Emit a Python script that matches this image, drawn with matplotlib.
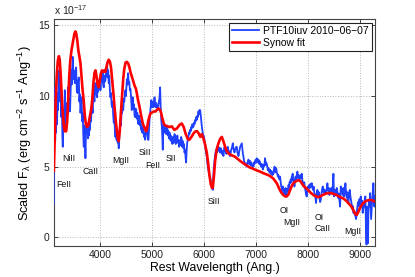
import matplotlib
matplotlib.use("Agg")
import matplotlib.pyplot as plt

plt.rcParams['font.family'] = ['Liberation Sans', 'DejaVu Sans']
plt.rcParams['mathtext.fontset'] = 'custom'
plt.rcParams['mathtext.rm'] = 'Liberation Sans'
plt.rcParams['mathtext.it'] = 'Liberation Sans:italic'
plt.rcParams['mathtext.bf'] = 'Liberation Sans:bold'

# Observed spectrum (units of 1e-17)
obs_wl = [3105, 3110, 3118, 3126, 3134, 3142, 3150, 3160, 3170, 3180, 3190, 3200, 3210, 3220, 3230, 3242, 3252, 3262, 3272, 3280,
          3290, 3300, 3310, 3319, 3330, 3338, 3345, 3355, 3365, 3375, 3383, 3395, 3409, 3420, 3432, 3440, 3452, 3462, 3473, 3485,
          3497, 3512, 3525, 3537, 3550, 3563, 3576, 3589, 3600, 3610, 3621, 3632, 3643, 3655, 3665, 3675, 3685, 3695, 3704, 3712,
          3717, 3725, 3735, 3745, 3755, 3765, 3775, 3785, 3795, 3805, 3815, 3825, 3835, 3845, 3855, 3865, 3878, 3890, 3900, 3910,
          3920, 3930, 3942, 3952, 3962, 3974, 3985, 3995, 4006, 4016, 4027, 4038, 4048, 4058, 4070, 4080, 4090, 4102, 4112, 4122,
          4134, 4144, 4155, 4166, 4176, 4188, 4199, 4210, 4220, 4231, 4241, 4252, 4263, 4273, 4284, 4295, 4305, 4316, 4327, 4338,
          4348, 4359, 4370, 4380, 4390, 4400, 4412, 4423, 4435, 4445, 4456, 4466, 4478, 4488, 4498, 4510, 4520, 4530, 4539, 4550,
          4562, 4573, 4584, 4595, 4610, 4620, 4630, 4642, 4652, 4664, 4674, 4684, 4696, 4706, 4716, 4727, 4738, 4748, 4759, 4770,
          4780, 4791, 4803, 4813, 4824, 4835, 4846, 4856, 4867, 4877, 4888, 4900, 4910, 4920, 4931, 4942, 4952, 4963, 4974, 4985,
          4995, 5006, 5016, 5027, 5038, 5048, 5060, 5070, 5081, 5092, 5102, 5113, 5124, 5135, 5145, 5156, 5166, 5178, 5190, 5200,
          5207, 5216, 5225, 5237, 5248, 5260, 5271, 5283, 5294, 5305, 5316, 5327, 5338, 5348, 5360, 5370, 5381, 5392, 5402, 5413,
          5424, 5434, 5445, 5456, 5466, 5477, 5488, 5498, 5509, 5520, 5530, 5541, 5552, 5562, 5573, 5584, 5594, 5605, 5616, 5626,
          5637, 5648, 5657, 5668, 5678, 5690, 5700, 5712, 5723, 5734, 5745, 5755, 5766, 5777, 5787, 5798, 5809, 5820, 5830, 5841,
          5851, 5862, 5873, 5884, 5894, 5905, 5915, 5926, 5937, 5947, 5958, 5969, 5980, 5990, 6003, 6015, 6028, 6040, 6055, 6068,
          6080, 6094, 6106, 6120, 6135, 6150, 6160, 6171, 6180, 6190, 6200, 6212, 6224, 6236, 6248, 6258, 6270, 6280, 6290, 6302,
          6313, 6325, 6335, 6345, 6356, 6366, 6377, 6388, 6398, 6409, 6420, 6430, 6441, 6452, 6462, 6473, 6484, 6494, 6505, 6516,
          6526, 6537, 6548, 6557, 6568, 6580, 6590, 6600, 6612, 6624, 6634, 6645, 6656, 6666, 6677, 6688, 6698, 6710, 6720, 6730,
          6742, 6752, 6762, 6774, 6785, 6795, 6806, 6816, 6826, 6837, 6848, 6858, 6869, 6880, 6891, 6902, 6912, 6923, 6934, 6944,
          6955, 6966, 6976, 6987, 6998, 7008, 7019, 7030, 7040, 7051, 7062, 7072, 7083, 7094, 7104, 7115, 7126, 7136, 7147, 7158,
          7168, 7179, 7190, 7200, 7211, 7222, 7232, 7243, 7254, 7265, 7275, 7286, 7297, 7307, 7318, 7329, 7340, 7350, 7361, 7372,
          7382, 7393, 7404, 7414, 7425, 7436, 7446, 7457, 7468, 7479, 7490, 7500, 7511, 7522, 7532, 7543, 7554, 7565, 7575, 7586,
          7597, 7607, 7618, 7630, 7640, 7650, 7661, 7672, 7683, 7694, 7712, 7722, 7733, 7744, 7755, 7766, 7777, 7790, 7802, 7814,
          7826, 7838, 7850, 7862, 7874, 7886, 7898, 7910, 7921, 7933, 7945, 7958, 7970, 7982, 7994, 8005, 8017, 8030, 8042, 8055,
          8066, 8078, 8090, 8102, 8114, 8126, 8138, 8150, 8162, 8174, 8187, 8200, 8213, 8226, 8239, 8252, 8265, 8277, 8290, 8303,
          8316, 8329, 8341, 8354, 8367, 8380, 8392, 8405, 8418, 8431, 8444, 8457, 8470, 8483, 8496, 8503, 8509, 8520, 8534, 8547,
          8560, 8573, 8586, 8598, 8611, 8624, 8637, 8650, 8663, 8675, 8688, 8701, 8714, 8727, 8740, 8752, 8765, 8778, 8784, 8797,
          8810, 8823, 8836, 8849, 8862, 8875, 8881, 8895, 8907, 8920, 8932, 8945, 8958, 8970, 8983, 8996, 9009, 9022, 9035, 9048,
          9060, 9073, 9086, 9099, 9112, 9120, 9128, 9133, 9138, 9145, 9155, 9162, 9170, 9180, 9190, 9202, 9212, 9222, 9232, 9245,
          9255, 9266, 9276, 9285, 9295, 9310]
obs_flux = [2.4, 10.6, 7.5, 9.8, 6.8, 9.5, 7.4, 9.2, 8.0, 10.2, 9.0, 11.8, 10.5, 11.5, 9.6, 10.9, 8.5, 9.8, 7.2, 6.4,
            8.4, 9.0, 8.0, 10.4, 8.6, 9.2, 7.6, 8.8, 9.5, 8.7, 10.6, 9.0, 9.8, 8.9, 10.4, 11.8, 10.8, 11.9, 12.75, 11.2,
            11.8, 10.9, 11.6, 12.0, 10.4, 10.2, 11.0, 11.3, 9.6, 10.1, 8.8, 9.3, 9.9, 8.2, 8.8, 7.3, 6.4, 7.9, 7.6, 6.3,
            5.6, 7.2, 8.1, 7.4, 8.0, 7.0, 7.8, 7.2, 8.3, 7.6, 8.6, 8.2, 9.1, 9.4, 8.8, 9.9, 10.2, 9.6, 10.5, 10.9,
            10.1, 10.6, 9.9, 10.8, 10.3, 11.1, 10.6, 11.3, 10.4, 11.0, 11.5, 11.0, 11.6, 10.8, 10.6, 11.4, 11.0, 11.1, 11.9, 11.5,
            12.3, 11.3, 11.8, 10.9, 11.4, 10.4, 9.9, 10.2, 9.4, 9.2, 9.6, 8.6, 8.1, 8.6, 7.6, 7.1, 7.6, 6.9, 7.1, 6.7,
            6.9, 6.3, 7.2, 7.8, 8.3, 7.9, 8.7, 8.8, 9.3, 9.0, 9.8, 9.6, 10.2, 10.4, 10.0, 10.9, 11.2, 10.8, 11.6, 10.9,
            11.0, 10.4, 10.5, 10.0, 9.0, 9.8, 9.9, 9.1, 9.4, 8.6, 8.5, 9.1, 9.0, 8.4, 8.8, 8.2, 8.0, 8.6, 8.5, 7.9,
            8.2, 7.6, 7.8, 7.4, 7.9, 7.5, 7.1, 7.4, 6.9, 7.3, 7.8, 7.3, 7.5, 6.9, 6.9, 7.6, 8.3, 8.76, 9.2, 9.7,
            9.4, 9.2, 9.6, 9.2, 9.5, 9.9, 9.4, 9.2, 9.5, 9.2, 9.3, 9.0, 9.4, 9.6, 9.9, 10.6, 9.3, 8.3, 7.8, 7.0,
            6.2, 7.5, 8.0, 7.8, 7.4, 7.9, 7.3, 7.6, 7.8, 7.2, 7.5, 7.0, 7.4, 6.9, 7.2, 6.8, 7.0, 6.6, 7.1, 6.7,
            7.0, 7.3, 7.1, 6.6, 7.0, 6.8, 7.2, 6.7, 6.9, 6.4, 6.8, 6.5, 6.9, 7.1, 6.9, 6.4, 6.8, 6.3, 6.6, 6.0,
            6.2, 5.6, 5.3, 6.2, 6.7, 6.9, 7.1, 7.4, 7.3, 7.6, 7.5, 7.8, 7.7, 8.0, 7.9, 7.8, 8.1, 8.0, 8.3, 8.2,
            8.5, 8.3, 8.6, 8.5, 8.9, 8.7, 9.0, 9.0, 8.7, 8.3, 7.9, 7.6, 7.3, 7.2, 7.1, 6.7, 6.4, 6.0, 5.7, 5.2,
            4.9, 4.6, 4.4, 4.3, 3.9, 3.7, 3.5, 3.36, 4.2, 4.9, 5.3, 5.7, 6.0, 6.2, 6.0, 6.4, 6.2, 6.4, 6.1, 6.3,
            6.0, 6.3, 6.2, 5.9, 6.1, 5.9, 5.75, 6.2, 6.4, 6.1, 6.3, 5.9, 6.0, 6.3, 6.4, 6.0, 6.1, 5.8, 5.75, 6.0,
            6.2, 6.3, 6.5, 6.65, 6.3, 6.1, 6.0, 6.2, 6.3, 6.4, 6.4, 6.0, 5.9, 5.75, 6.0, 6.2, 6.4, 6.5, 6.6, 6.65,
            6.2, 5.9, 5.7, 5.4, 5.3, 5.1, 5.2, 5.1, 5.0, 5.3, 5.2, 5.5, 5.3, 5.2, 5.4, 5.1, 5.3, 5.2, 5.0, 5.1,
            5.0, 5.3, 5.2, 5.4, 5.5, 5.3, 5.6, 5.4, 5.3, 5.5, 5.2, 5.4, 5.2, 5.1, 5.0, 5.2, 5.0, 4.8, 5.1, 5.0,
            5.2, 5.6, 5.1, 5.3, 5.2, 5.0, 4.75, 4.9, 4.7, 4.6, 4.8, 4.5, 4.7, 4.6, 4.4, 4.6, 4.5, 4.8, 5.0, 4.7,
            4.6, 4.9, 4.6, 4.5, 4.3, 4.4, 4.2, 4.1, 4.3, 3.9, 3.6, 3.5, 3.3, 3.6, 3.36, 3.0, 3.4, 3.1, 3.5, 2.9,
            3.1, 3.4, 3.3, 3.7, 3.5, 3.9, 3.83, 4.1, 3.9, 4.3, 4.5, 4.0, 4.1, 3.6, 4.0, 4.3, 4.1, 4.4, 4.65, 4.2,
            4.4, 4.0, 4.3, 4.4, 4.2, 4.5, 4.0, 3.8, 3.6, 3.9, 3.5, 3.3, 3.0, 2.89, 3.3, 3.6, 3.4, 3.7, 3.5, 3.8,
            3.6, 3.83, 3.5, 3.36, 3.6, 3.2, 3.0, 2.8, 2.43, 3.1, 3.36, 3.0, 3.2, 2.8, 2.5, 2.66, 3.1, 3.4, 3.6, 3.2,
            3.4, 3.1, 3.3, 3.13, 3.5, 3.83, 3.3, 3.5, 3.0, 3.36, 3.2, 3.5, 3.1, 3.6, 4.5, 3.4, 2.9, 3.2, 3.36, 3.0,
            3.5, 3.2, 2.8, 3.1, 2.6, 2.18, 3.6, 3.2, 3.4, 3.0, 3.5, 2.9, 3.3, 3.83, 3.1, 2.8, 3.2, 2.6, 2.43, 3.0,
            3.36, 2.9, 2.6, 2.3, 2.0, 2.2, 1.74, 1.9, 1.6, 1.5, 1.3, 1.7, 2.18, 2.5, 2.2, 2.7, 2.4, 2.9, 2.3, 2.6,
            1.74, 2.4, 2.1, 2.7, 2.9, 1.2, 0.3, -0.5, 0.8, 2.18, 1.0, -0.4, 1.8, 2.6, 2.2, 3.13, 2.2, 1.3, 2.0, 2.8,
            3.3, 3.83, 2.6, 2.18, 2.9, 2.6]

# Synow fit
fit_wl = [3108, 3125, 3145, 3165, 3185, 3205, 3220, 3240, 3260, 3280, 3300, 3320, 3345, 3365, 3385, 3405, 3425, 3447, 3465, 3485,
          3505, 3524, 3540, 3560, 3580, 3600, 3621, 3640, 3660, 3685, 3705, 3725, 3749, 3770, 3790, 3810, 3830, 3850, 3870, 3890,
          3910, 3930, 3950, 3974, 3995, 4015, 4038, 4060, 4080, 4100, 4120, 4145, 4166, 4190, 4210, 4235, 4260, 4280, 4300, 4320,
          4340, 4359, 4380, 4400, 4423, 4445, 4465, 4490, 4515, 4540, 4565, 4590, 4617, 4640, 4665, 4690, 4706, 4730, 4755, 4780,
          4803, 4825, 4850, 4870, 4886, 4905, 4925, 4945, 4963, 4985, 5010, 5040, 5070, 5100, 5124, 5150, 5175, 5200, 5230, 5260,
          5300, 5340, 5380, 5430, 5480, 5530, 5573, 5610, 5650, 5690, 5720, 5760, 5800, 5840, 5870, 5900, 5930, 5958, 5990, 6020,
          6055, 6080, 6106, 6130, 6155, 6171, 6190, 6216, 6245, 6280, 6310, 6345, 6375, 6409, 6440, 6473, 6510, 6550, 6601, 6650,
          6700, 6762, 6820, 6880, 6923, 6980, 7030, 7083, 7140, 7190, 7243, 7290, 7340, 7380, 7404, 7440, 7470, 7500, 7530, 7565,
          7597, 7630, 7661, 7700, 7740, 7790, 7822, 7854, 7890, 7930, 7982, 8020, 8060, 8110, 8160, 8207, 8239, 8290, 8350, 8420,
          8463, 8520, 8580, 8630, 8688, 8740, 8790, 8849, 8890, 8920, 8945, 8975, 9010, 9050, 9090, 9140, 9190, 9240, 9290, 9320]
fit_flux = [4.7, 7.0, 9.8, 11.5, 12.5, 12.8, 12.6, 11.5, 10.0, 8.8, 7.9, 7.5, 7.5, 8.2, 9.8, 11.4, 12.5, 13.2, 13.6, 14.0,
            14.4, 14.55, 14.4, 13.9, 13.2, 12.8, 12.3, 11.4, 10.5, 9.6, 8.6, 8.0, 7.8, 7.9, 8.3, 8.7, 9.1, 9.8, 10.9, 11.6,
            11.8, 11.4, 10.8, 10.6, 11.1, 11.6, 11.8, 11.7, 11.8, 11.7, 12.0, 12.4, 12.55, 12.4, 12.0, 11.0, 10.0, 9.1, 8.3, 7.6,
            7.0, 6.8, 7.6, 8.8, 10.0, 11.2, 11.9, 12.35, 12.4, 12.3, 12.0, 11.6, 11.3, 11.0, 10.7, 10.5, 10.2, 9.7, 9.3, 8.8,
            8.4, 8.0, 7.8, 7.6, 7.5, 7.7, 8.2, 8.5, 8.7, 8.8, 8.85, 8.9, 8.9, 9.05, 9.1, 9.05, 8.8, 8.4, 8.0, 7.9,
            7.85, 7.8, 7.85, 7.6, 7.7, 7.95, 8.05, 7.8, 7.3, 6.95, 6.9, 7.1, 7.35, 7.5, 7.5, 7.35, 7.1, 7.3, 7.0, 6.6,
            6.0, 5.3, 4.4, 3.8, 3.5, 3.5, 4.2, 5.4, 6.2, 6.65, 6.95, 7.1, 6.8, 6.4, 6.1, 5.94, 5.85, 5.78, 5.7, 5.55,
            5.4, 5.24, 5.1, 4.95, 4.89, 4.8, 4.72, 4.65, 4.55, 4.48, 4.4, 4.3, 4.15, 3.95, 3.83, 3.55, 3.3, 3.13, 3.0, 2.9,
            2.9, 3.05, 3.36, 3.7, 3.9, 4.0, 4.05, 4.0, 3.8, 3.6, 3.45, 3.3, 3.15, 3.0, 2.9, 2.85, 2.9, 3.0, 3.1, 3.15,
            3.12, 3.05, 2.95, 2.85, 2.75, 2.6, 2.4, 2.15, 1.85, 1.65, 1.6, 1.8, 2.1, 2.35, 2.5, 2.6, 2.65, 2.63, 2.55, 2.5]

# Line identifications
line_names = ['FeII', 'NiII', 'CaII', 'MgII', 'SiII', 'FeII', 'SII', 'SiII', 'OI', 'MgII', 'OI', 'CaII', 'MgII']
line_x = [3290, 3405, 3817, 4405, 4867, 5012, 5368, 6183, 7540, 7686, 8221, 8278, 8866]
line_y = [3.77, 5.58, 4.63, 5.47, 6.0, 5.05, 5.58, 2.55, 1.92, 1.04, 1.42, 0.65, 0.4]

x_ticks = [4000, 5000, 6000, 7000, 8000, 9000]
y_ticks = [0, 5, 10, 15]

fig = plt.figure(figsize=(4.15, 2.77), dpi=100)
ax = fig.add_axes([0.130, 0.112, 0.774, 0.818])

ax.plot(obs_wl, obs_flux, color='#2040ff', lw=1.3, label='PTF10iuv 2010\u221206\u221207', zorder=3)
ax.plot(fit_wl, fit_flux, color='#ff0000', lw=1.9, label='Synow fit', zorder=4)

for name, x, y in zip(line_names, line_x, line_y):
    ax.text(x, y, name, fontsize=6.3, ha='center', va='center', color='#111111', zorder=5)

ax.set_xlim(3110, 9300)
ax.set_ylim(-0.6, 15.4)
ax.set_xticks(x_ticks)
ax.set_yticks(y_ticks)
ax.grid(True, ls=':', color='#b8b8b8', lw=0.7)
ax.tick_params(direction='in', top=True, right=True, length=3, width=0.6, labelsize=7.5, pad=3, colors='#222222')
for s in ax.spines.values():
    s.set_color('#444444')
    s.set_linewidth(0.8)

ax.set_xlabel('Rest Wavelength (Ang.)', fontsize=8.8, labelpad=1)
ax.set_ylabel(r'Scaled F$_{\mathrm{\lambda}}$ (erg cm$^{-2}$ s$^{-1}$ Ang$^{-1}$)', fontsize=9.2, labelpad=3)
ax.text(0.0, 1.012, r'x 10$^{-17}$', transform=ax.transAxes, fontsize=7.5, ha='left', va='bottom', color='#222222')

leg = ax.legend(loc='upper right', fontsize=7.5, fancybox=False, framealpha=1, edgecolor='#222222',
                borderaxespad=0.3, handlelength=2.6, handletextpad=0.4, borderpad=0.3, labelspacing=0.2)
leg.get_frame().set_linewidth(0.8)

fig.savefig('out.png', dpi=100)
